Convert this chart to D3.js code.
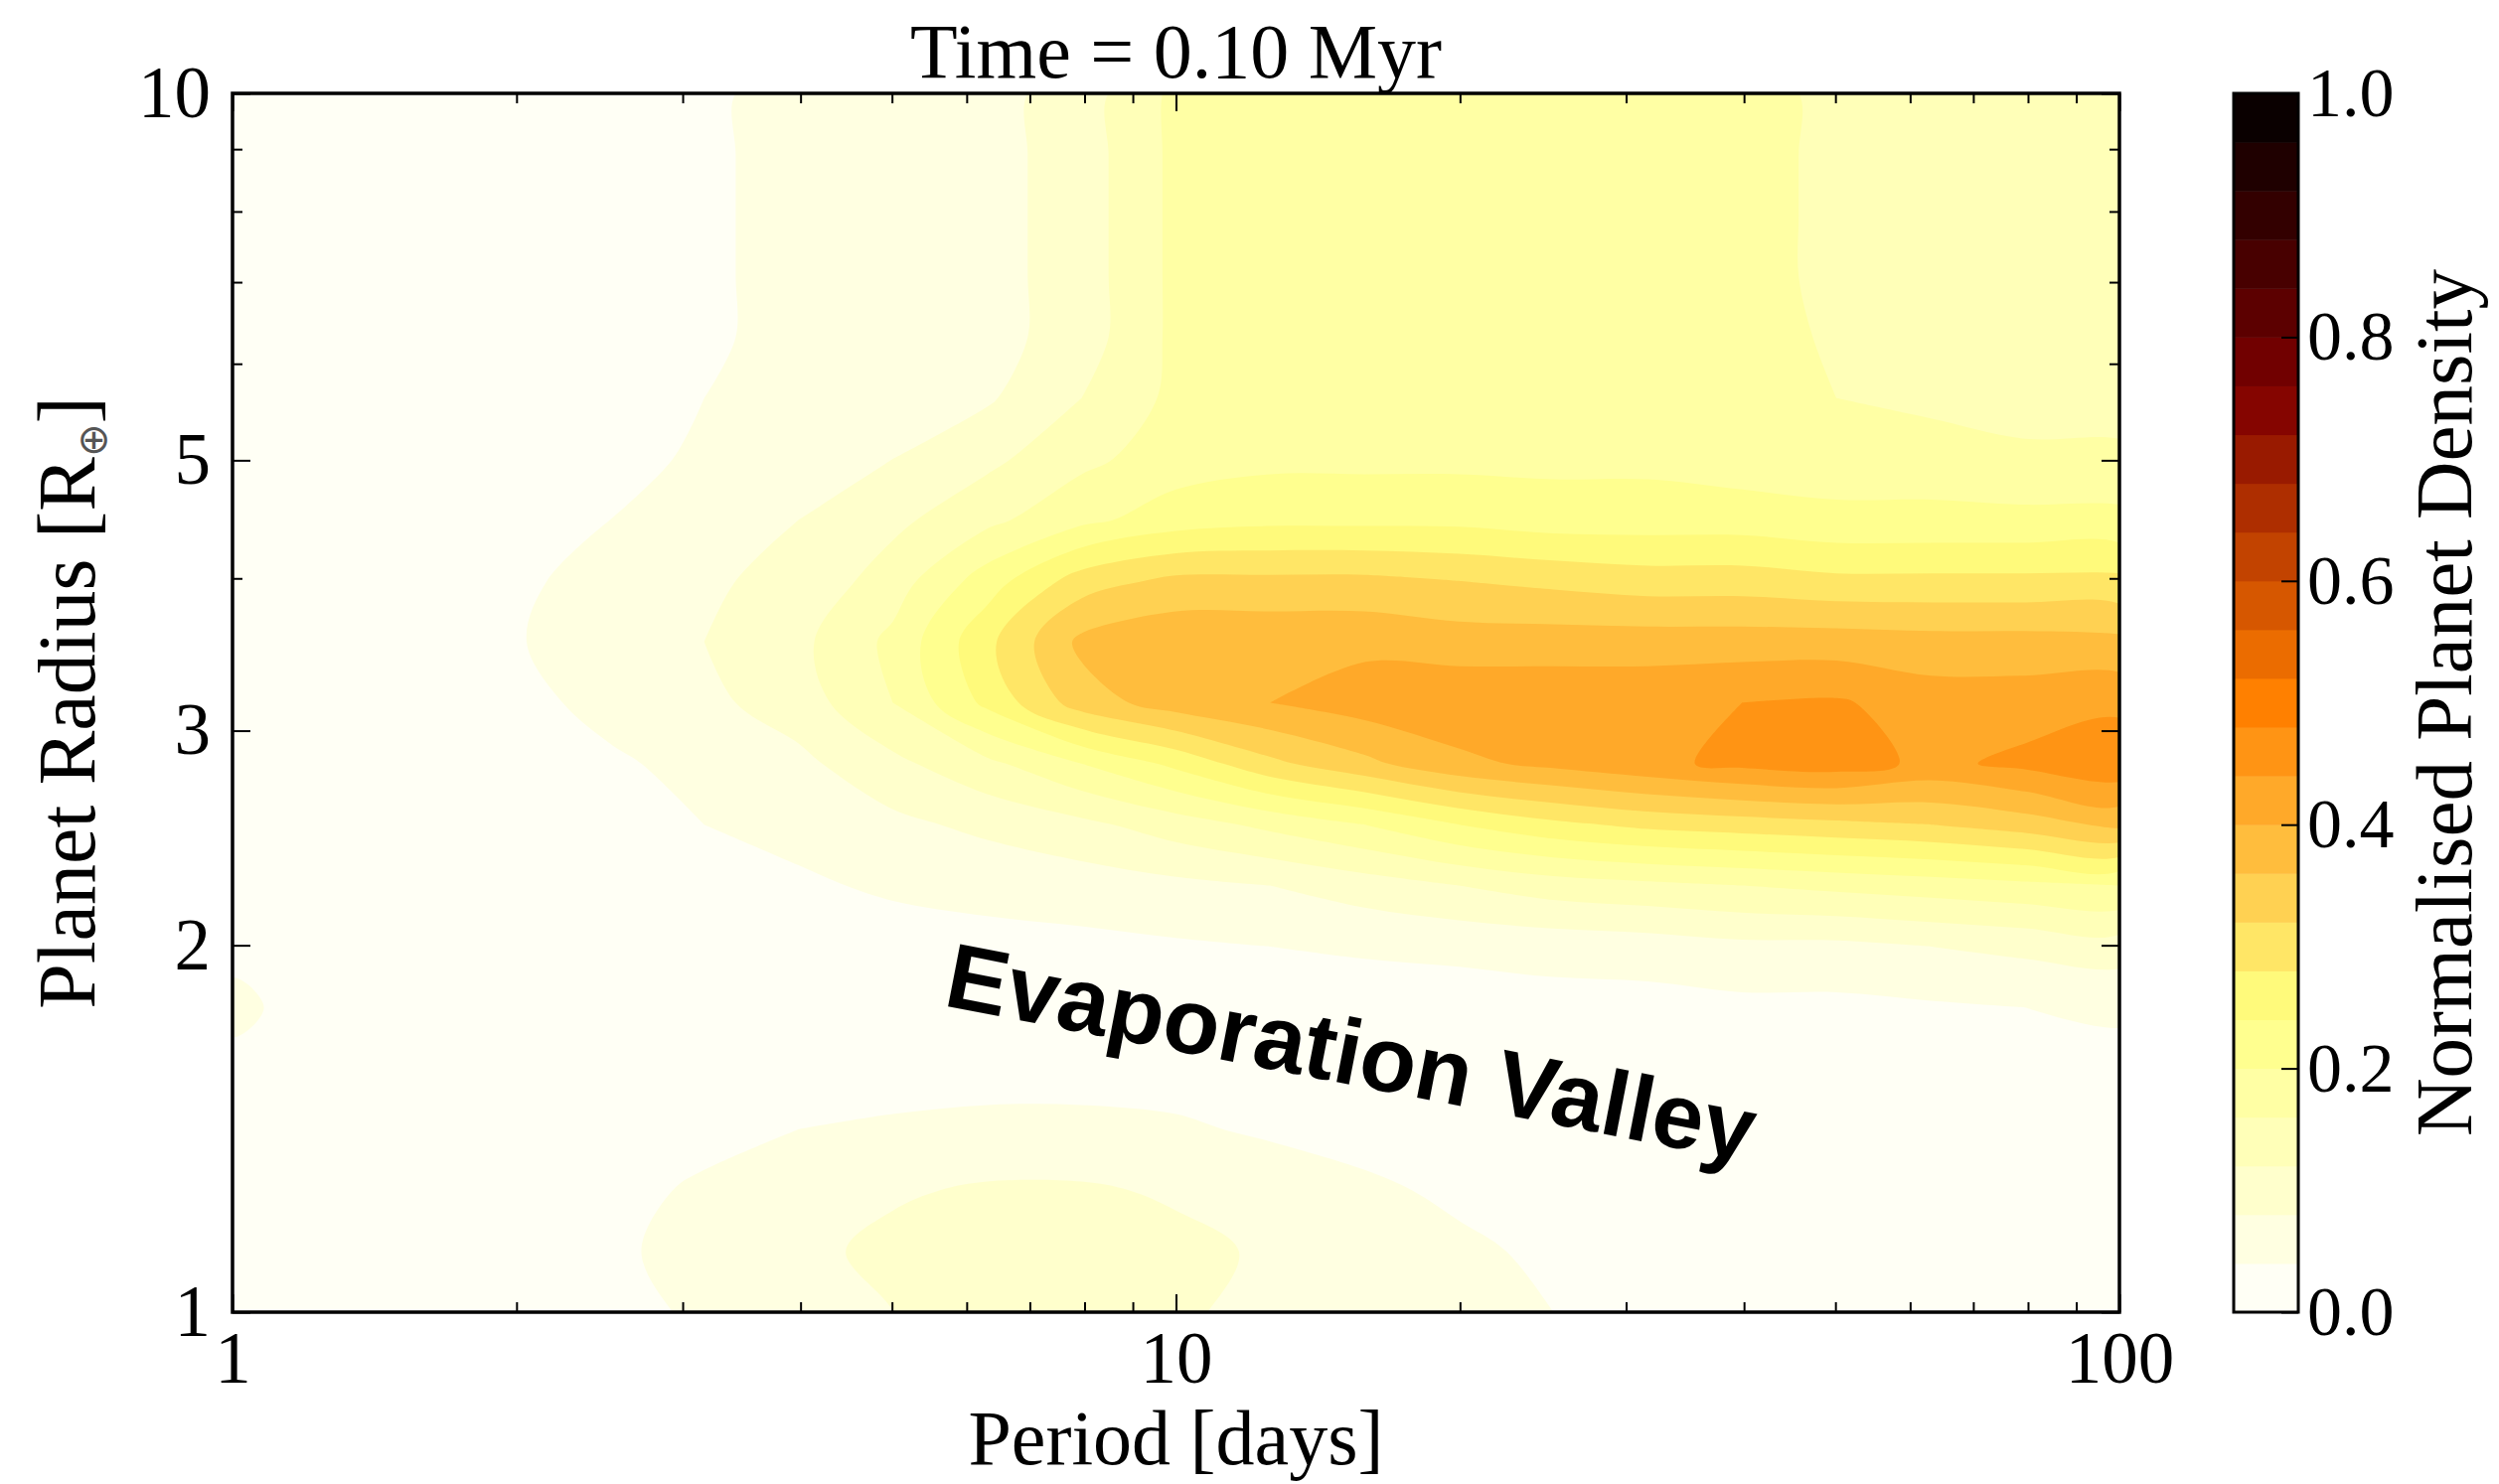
<!DOCTYPE html>
<html>
<head>
<meta charset="utf-8">
<script src="https://cdn.jsdelivr.net/npm/d3@7"></script>
<style>
  body { margin: 0; background: #fff; }
</style>
</head>
<body>
<script>
// Define dimensions
const width = 2515, height = 1494;
const plot = {left: 234, right: 2133, top: 94, bottom: 1321};
const cbar = {left: 2248, right: 2313};
const serif = "Liberation Serif, Times New Roman, serif";
const labelSize = 78, tickSize = 73;

// Grid of the density map (log spaced)
const periods = [1, 1.26, 1.58, 2, 2.51, 3.16, 3.98, 5.01, 6.31, 7.94, 10, 12.6, 15.8, 20, 25.1, 31.6, 39.8, 50.1, 63.1, 79.4, 100];
const radii = [1, 1.12, 1.26, 1.41, 1.58, 1.78, 2, 2.24, 2.51, 2.82, 3.16, 3.55, 3.98, 4.47, 5.01, 5.62, 6.31, 7.08, 7.94, 8.91, 10];

// density[j][i] -> radius radii[j], period periods[i]
const density = [
  [0.02,0.02,0.02,0.02,0.03,0.045,0.06,0.08,0.09,0.09,0.085,0.07,0.06,0.05,0.04,0.03,0.025,0.02,0.02,0.02,0.02],
  [0.02,0.02,0.02,0.025,0.035,0.05,0.07,0.09,0.10,0.10,0.09,0.075,0.06,0.045,0.035,0.025,0.02,0.02,0.02,0.02,0.02],
  [0.02,0.02,0.02,0.02,0.03,0.045,0.06,0.075,0.085,0.085,0.075,0.06,0.045,0.035,0.025,0.02,0.02,0.02,0.02,0.02,0.02],
  [0.025,0.02,0.02,0.02,0.025,0.03,0.04,0.045,0.05,0.05,0.045,0.035,0.03,0.025,0.02,0.02,0.02,0.02,0.02,0.02,0.02],
  [0.035,0.025,0.02,0.02,0.02,0.02,0.025,0.025,0.025,0.025,0.025,0.02,0.02,0.02,0.02,0.02,0.02,0.02,0.02,0.025,0.03],
  [0.045,0.03,0.02,0.02,0.02,0.02,0.02,0.02,0.02,0.02,0.02,0.02,0.02,0.02,0.025,0.025,0.03,0.03,0.035,0.04,0.045],
  [0.035,0.02,0.02,0.02,0.02,0.02,0.02,0.025,0.03,0.03,0.035,0.04,0.045,0.05,0.055,0.06,0.07,0.07,0.08,0.09,0.10],
  [0.02,0.02,0.02,0.02,0.02,0.025,0.035,0.045,0.05,0.06,0.07,0.08,0.10,0.12,0.14,0.15,0.16,0.17,0.18,0.19,0.20],
  [0.02,0.02,0.02,0.02,0.03,0.04,0.05,0.07,0.09,0.11,0.14,0.17,0.20,0.24,0.27,0.29,0.30,0.31,0.32,0.34,0.37],
  [0.02,0.02,0.02,0.025,0.035,0.05,0.07,0.11,0.15,0.20,0.25,0.31,0.35,0.39,0.41,0.43,0.45,0.46,0.43,0.45,0.47],
  [0.02,0.02,0.02,0.03,0.05,0.07,0.10,0.16,0.25,0.34,0.38,0.40,0.42,0.43,0.43,0.43,0.44,0.445,0.42,0.42,0.43],
  [0.02,0.02,0.025,0.038,0.055,0.08,0.11,0.17,0.27,0.37,0.39,0.39,0.39,0.38,0.38,0.38,0.38,0.38,0.375,0.375,0.37],
  [0.02,0.02,0.03,0.035,0.05,0.075,0.09,0.14,0.22,0.30,0.33,0.33,0.33,0.32,0.31,0.30,0.30,0.29,0.29,0.29,0.29],
  [0.02,0.02,0.02,0.03,0.04,0.06,0.08,0.11,0.15,0.19,0.22,0.23,0.23,0.23,0.22,0.22,0.22,0.21,0.21,0.21,0.21],
  [0.02,0.02,0.02,0.025,0.03,0.045,0.06,0.08,0.11,0.15,0.18,0.19,0.19,0.19,0.19,0.19,0.18,0.18,0.18,0.17,0.17],
  [0.02,0.02,0.02,0.02,0.025,0.04,0.055,0.065,0.075,0.12,0.17,0.18,0.18,0.18,0.18,0.18,0.175,0.16,0.15,0.14,0.14],
  [0.02,0.02,0.02,0.02,0.025,0.035,0.05,0.06,0.065,0.10,0.17,0.18,0.18,0.18,0.18,0.18,0.175,0.155,0.135,0.13,0.13],
  [0.02,0.02,0.02,0.02,0.025,0.035,0.05,0.06,0.065,0.10,0.17,0.18,0.18,0.18,0.18,0.18,0.175,0.15,0.13,0.13,0.13],
  [0.02,0.02,0.02,0.02,0.025,0.035,0.05,0.06,0.065,0.10,0.17,0.18,0.18,0.18,0.18,0.18,0.175,0.15,0.13,0.13,0.13],
  [0.02,0.02,0.02,0.02,0.025,0.035,0.05,0.06,0.065,0.10,0.17,0.18,0.18,0.18,0.18,0.18,0.175,0.15,0.13,0.13,0.13],
  [0.02,0.02,0.02,0.02,0.025,0.035,0.05,0.06,0.065,0.10,0.17,0.18,0.18,0.18,0.18,0.18,0.175,0.15,0.13,0.13,0.13]
];

// Contour levels and ticks
const levels = [0, 0.04, 0.08, 0.12, 0.16, 0.2, 0.24, 0.28, 0.32, 0.36, 0.4, 0.44, 0.48, 0.52, 0.56, 0.6, 0.64, 0.68, 0.72, 0.76, 0.8, 0.84, 0.88, 0.92, 0.96, 1.0];
const xTicks = [1, 10, 100];
const xMinorTicks = [2, 3, 4, 5, 6, 7, 8, 9, 20, 30, 40, 50, 60, 70, 80, 90];
const yTicks = [1, 2, 3, 5, 10];
const yMinorTicks = [4, 6, 7, 8, 9];
const cbarTicks = [0, 0.2, 0.4, 0.6, 0.8, 1.0];

// afmhot reversed
const cmapStops = [0, 0.25, 0.5, 0.75, 1];
const cmapColors = ["#ffffff", "#ffff80", "#ff8000", "#800000", "#000000"];
const color = d3.scaleLinear().domain(cmapStops).range(cmapColors).interpolate(d3.interpolateRgb);

const svg = d3.select("body")
      .append("svg")
      .attr("width", width)
      .attr("height", height)
      .attr("font-family", serif);

const x = d3.scaleLog().domain([1, 100]).range([plot.left, plot.right]);
const y = d3.scaleLog().domain([1, 10]).range([plot.bottom, plot.top]);

svg.append("clipPath").attr("id", "clip")
    .append("rect")
    .attr("x", plot.left).attr("y", plot.top)
    .attr("width", plot.right - plot.left).attr("height", plot.bottom - plot.top);

// Filled contours
const nx = periods.length, ny = radii.length;
const gridX = d3.scaleLinear().domain([0.5, nx - 0.5]).range([Math.log10(periods[0]), Math.log10(periods[nx - 1])]);
const gridY = d3.scaleLinear().domain([0.5, ny - 0.5]).range([Math.log10(radii[0]), Math.log10(radii[ny - 1])]);
const project = p => [x(10 ** gridX(p[0])), y(10 ** gridY(p[1]))];

const contours = d3.contours().size([nx, ny]).thresholds(levels)(density.flat());
const ringLine = d3.line().curve(d3.curveCatmullRomClosed.alpha(0.5));
const contourPath = c => c.coordinates
      .map(poly => poly.map(ring => ringLine(ring.slice(0, -1).map(project))).join(""))
      .join("");

svg.append("g")
    .attr("clip-path", "url(#clip)")
    .selectAll("path")
    .data(contours)
    .enter().append("path")
    .attr("d", contourPath)
    .attr("fill-rule", "evenodd")
    .attr("fill", d => color(d.value + 0.02));

// Axes with inward ticks on all sides
function styleAxis(g) {
    g.select(".domain").remove();
    g.selectAll(".tick line").attr("stroke", "#000").attr("stroke-width", 2);
    g.attr("font-family", serif).attr("font-size", tickSize);
    g.selectAll("text").attr("fill", "#000");
}

svg.append("g").attr("transform", `translate(0,${plot.bottom})`)
    .call(d3.axisBottom(x).tickValues(xTicks).tickFormat(d3.format("d"))
          .tickSizeInner(-18).tickSizeOuter(0).tickPadding(19))
    .call(styleAxis);
svg.append("g").attr("transform", `translate(0,${plot.bottom})`)
    .call(d3.axisBottom(x).tickValues(xMinorTicks).tickFormat("").tickSizeInner(-10).tickSizeOuter(0))
    .call(styleAxis);
svg.append("g").attr("transform", `translate(0,${plot.top})`)
    .call(d3.axisTop(x).tickValues(xTicks).tickFormat("").tickSizeInner(-18).tickSizeOuter(0))
    .call(styleAxis);
svg.append("g").attr("transform", `translate(0,${plot.top})`)
    .call(d3.axisTop(x).tickValues(xMinorTicks).tickFormat("").tickSizeInner(-10).tickSizeOuter(0))
    .call(styleAxis);

svg.append("g").attr("transform", `translate(${plot.left},0)`)
    .call(d3.axisLeft(y).tickValues(yTicks).tickFormat(d3.format("d"))
          .tickSizeInner(-18).tickSizeOuter(0).tickPadding(22))
    .call(styleAxis);
svg.append("g").attr("transform", `translate(${plot.left},0)`)
    .call(d3.axisLeft(y).tickValues(yMinorTicks).tickFormat("").tickSizeInner(-10).tickSizeOuter(0))
    .call(styleAxis);
svg.append("g").attr("transform", `translate(${plot.right},0)`)
    .call(d3.axisRight(y).tickValues(yTicks).tickFormat("").tickSizeInner(-18).tickSizeOuter(0))
    .call(styleAxis);
svg.append("g").attr("transform", `translate(${plot.right},0)`)
    .call(d3.axisRight(y).tickValues(yMinorTicks).tickFormat("").tickSizeInner(-10).tickSizeOuter(0))
    .call(styleAxis);

// Frame
svg.append("rect")
    .attr("x", plot.left).attr("y", plot.top)
    .attr("width", plot.right - plot.left).attr("height", plot.bottom - plot.top)
    .attr("fill", "none").attr("stroke", "#000").attr("stroke-width", 3.5);

// Titles
svg.append("text")
    .attr("x", (plot.left + plot.right) / 2).attr("y", 78)
    .attr("text-anchor", "middle").attr("font-size", labelSize)
    .text("Time = 0.10 Myr");

svg.append("text")
    .attr("x", (plot.left + plot.right) / 2).attr("y", 1474)
    .attr("text-anchor", "middle").attr("font-size", labelSize)
    .text("Period [days]");

const yLabel = svg.append("text")
    .attr("transform", `translate(95,${(plot.top + plot.bottom) / 2}) rotate(-90)`)
    .attr("text-anchor", "middle").attr("font-size", 82);
yLabel.append("tspan").text("Planet Radius [R");
yLabel.append("tspan").attr("dy", 12).attr("font-size", 40)
    .attr("font-family", "DejaVu Sans").attr("fill", "#555").text("\u2295");
yLabel.append("tspan").attr("dy", -12).text("]");

// Annotation
svg.append("text")
    .attr("transform", "translate(948,1012) rotate(11)")
    .attr("font-family", "Liberation Sans, Arial, Helvetica, sans-serif")
    .attr("font-weight", "bold")
    .attr("font-size", 93)
    .text("Evaporation Valley");

// Colorbar
const cy = d3.scaleLinear().domain([0, 1]).range([plot.bottom, plot.top]);
const bands = d3.pairs(levels);
svg.append("g")
    .selectAll("rect")
    .data(bands)
    .enter().append("rect")
    .attr("x", cbar.left)
    .attr("width", cbar.right - cbar.left)
    .attr("y", d => cy(d[1]))
    .attr("height", d => cy(d[0]) - cy(d[1]) + 0.5)
    .attr("fill", d => color((d[0] + d[1]) / 2));

svg.append("g").attr("transform", `translate(${cbar.right},0)`)
    .call(d3.axisRight(cy).tickValues(cbarTicks).tickFormat(d3.format(".1f"))
          .tickSizeInner(-17).tickSizeOuter(0).tickPadding(9))
    .call(styleAxis)
    .call(g => g.attr("font-size", 70));

svg.append("rect")
    .attr("x", cbar.left).attr("y", plot.top)
    .attr("width", cbar.right - cbar.left).attr("height", plot.bottom - plot.top)
    .attr("fill", "none").attr("stroke", "#000").attr("stroke-width", 3);

svg.append("text")
    .attr("transform", `translate(2487,${(plot.top + plot.bottom) / 2}) rotate(-90)`)
    .attr("text-anchor", "middle").attr("font-size", 81)
    .text("Normalised Planet Density");
</script>
</body>
</html>
